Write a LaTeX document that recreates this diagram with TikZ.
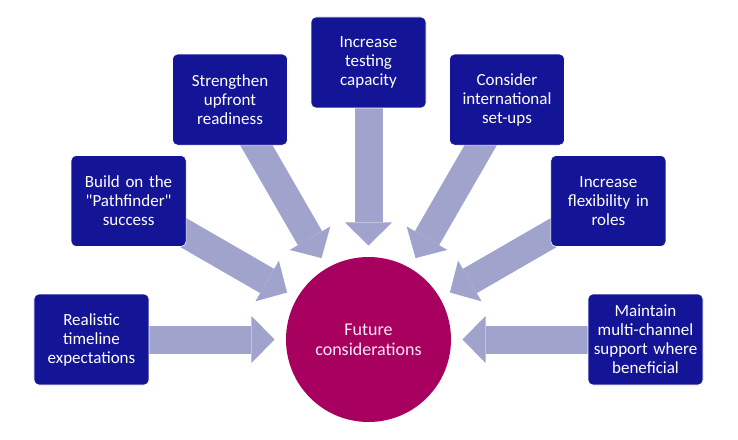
\documentclass[tikz,border=0pt]{standalone}
\usepackage{fontspec}
\setmainfont{Carlito}[Ligatures=TeXOff]
\usetikzlibrary{arrows.meta, calc, backgrounds}
\definecolor{myblue}{RGB}{20,20,150}
\definecolor{mymagenta}{RGB}{168,0,94}
\definecolor{mylilac}{RGB}{160,164,205}
\definecolor{mypink}{RGB}{255,232,246}
\tikzset{
  topic/.style={rectangle, draw=white, fill=myblue, text=white,
    minimum width=115pt, minimum height=91pt, text width=105pt,
    inner sep=5pt, align=center, rounded corners=5pt, line width=0.6pt,
    font=\fontsize{17}{19}\selectfont},
  hub/.style={circle, fill=mymagenta, text=mypink, minimum size=165pt,
    align=center, font=\fontsize{18}{20}\selectfont},
  fatarrow/.style={-{Triangle[length=23pt, width=47pt, line width=0pt]},
    line width=28pt, color=mylilac}
}

\begin{document}
\begin{tikzpicture}
  \useasboundingbox (-368.5pt,-99.5pt) rectangle (369.5pt,339.5pt);
  \node[hub] (fc) at (0,0) {Future\\considerations};
  \node[topic] (realistic)  at (180:277pt) {Realistic\\timeline\\expectations};
  \node[topic] (pathfinder) at (150:277pt) {Build on the\\"Pathfinder"\\success};
  \node[topic] (upfront)    at (120:277pt) {Strengthen\\upfront\\readiness};
  \node[topic] (testing)    at (90:277pt)  {Increase\\testing\\capacity};
  \node[topic] (intl)       at (60:277pt)  {Consider\\international\\set-ups};
  \node[topic] (roles)      at (30:277pt)  {Increase\\flexibility in\\roles};
  \node[topic] (channel)    at (0:277pt)   {Maintain\\multi-channel\\support where\\beneficial};

  % arrows behind the boxes
  \begin{scope}[on background layer]
    \fill[white] (-368.5pt,-99.5pt) rectangle (369.5pt,339.5pt);
    \draw[fatarrow] (realistic.center)  -- ($(fc)!94pt!(realistic)$);
    \draw[fatarrow] (pathfinder.center) -- ($(fc)!94pt!(pathfinder)$);
    \draw[fatarrow] (upfront.center)    -- ($(fc)!94pt!(upfront)$);
    \draw[fatarrow] (testing.center)    -- ($(fc)!94pt!(testing)$);
    \draw[fatarrow] (intl.center)       -- ($(fc)!94pt!(intl)$);
    \draw[fatarrow] (roles.center)      -- ($(fc)!94pt!(roles)$);
    \draw[fatarrow] (channel.center)    -- ($(fc)!94pt!(channel)$);
  \end{scope}
\end{tikzpicture}
\end{document}
